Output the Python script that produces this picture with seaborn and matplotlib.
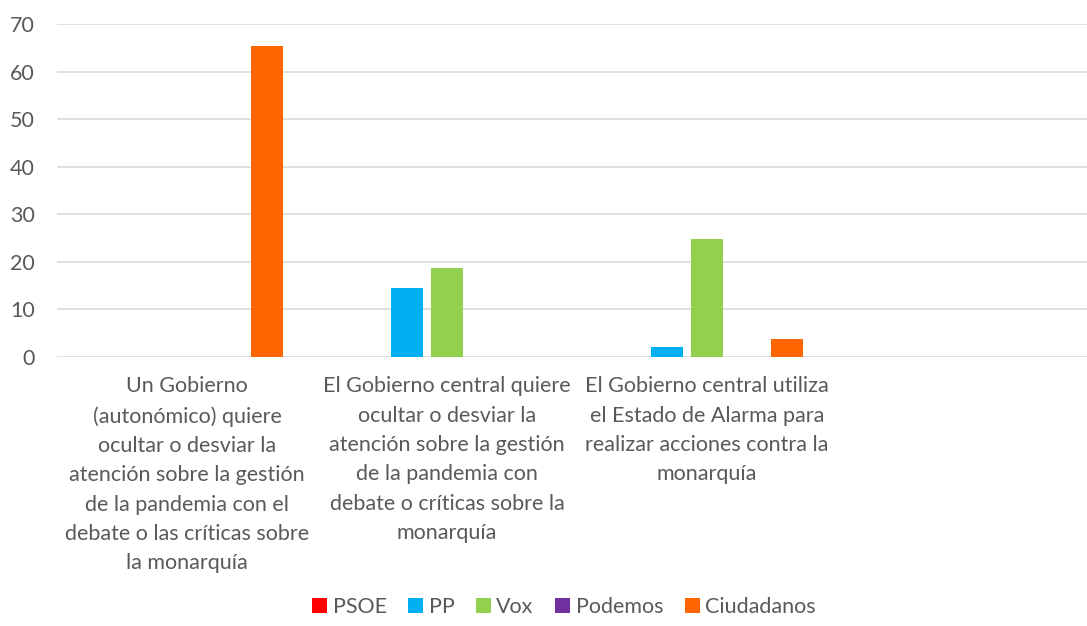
import matplotlib
matplotlib.use("Agg")
import matplotlib.pyplot as plt
import seaborn as sns
import pandas as pd
from matplotlib.patches import Patch

categories = [
    "Un Gobierno\n(autonómico) quiere\nocultar o desviar la\natención sobre la gestión\nde la pandemia con el\ndebate o las críticas sobre\nla monarquía",
    "El Gobierno central quiere\nocultar o desviar la\natención sobre la gestión\nde la pandemia con\ndebate o críticas sobre la\nmonarquía",
    "El Gobierno central utiliza\nel Estado de Alarma para\nrealizar acciones contra la\nmonarquía",
]
series = ["PSOE", "PP", "Vox", "Podemos", "Ciudadanos"]
psoe = [0, 0, 0]
pp = [0, 14.5, 2.0]
vox = [0, 18.7, 24.9]
podemos = [0, 0, 0]
ciudadanos = [65.4, 0, 3.8]
colors = ["#FF0000", "#00B0F0", "#92D050", "#7030A0", "#FF6600"]

rows = []
for name, vals in zip(series, [psoe, pp, vox, podemos, ciudadanos]):
    for c, v in zip(categories, vals):
        rows.append({"cat": c, "party": name, "value": v})
df = pd.DataFrame(rows)

sns.set_theme(style="white")
plt.rcParams["font.family"] = ["Lato", "DejaVu Sans"]

W, H = 1087, 626
FS = 15.5
fig = plt.figure(figsize=(W / 100, H / 100), dpi=100)
ax = fig.add_axes([57 / W, 1 - 357 / H, (1087 - 57) / W, (357 - 24) / H])

sns.barplot(data=df, x="cat", y="value", hue="party", order=categories,
            hue_order=series, palette=colors, saturation=1,
            width=5 * 40 / 260, gap=0.2,
            linewidth=0, errorbar=None, ax=ax, legend=False)

ax.set_ylim(0, 70)
ax.set_xlim(-0.5, (1087 - 57) / 260 - 0.5)
ax.set_yticks(range(0, 71, 10))
ax.yaxis.grid(True, color="#D9D9D9", linewidth=1.2)
ax.set_axisbelow(True)
for s in ax.spines.values():
    s.set_visible(False)
ax.set_xlabel("")
ax.set_ylabel("")
ax.tick_params(axis="y", length=0, pad=16, labelsize=FS, labelcolor="#595959")
ax.tick_params(axis="x", length=0, pad=14, labelsize=FS, labelcolor="#595959")
for lbl in ax.get_xticklabels():
    lbl.set_linespacing(1.58)
    lbl.set_ha("center")

handles = [Patch(facecolor=c, edgecolor="none", label=s) for s, c in zip(series, colors)]
fig.legend(handles=handles, loc="center", bbox_to_anchor=(564 / W, 1 - 607 / H),
           ncol=5, frameon=False, fontsize=FS, handlelength=0.7, handleheight=0.7,
           handletextpad=0.25, columnspacing=1.0, labelcolor="#595959")

fig.savefig("out.png", dpi=100)
